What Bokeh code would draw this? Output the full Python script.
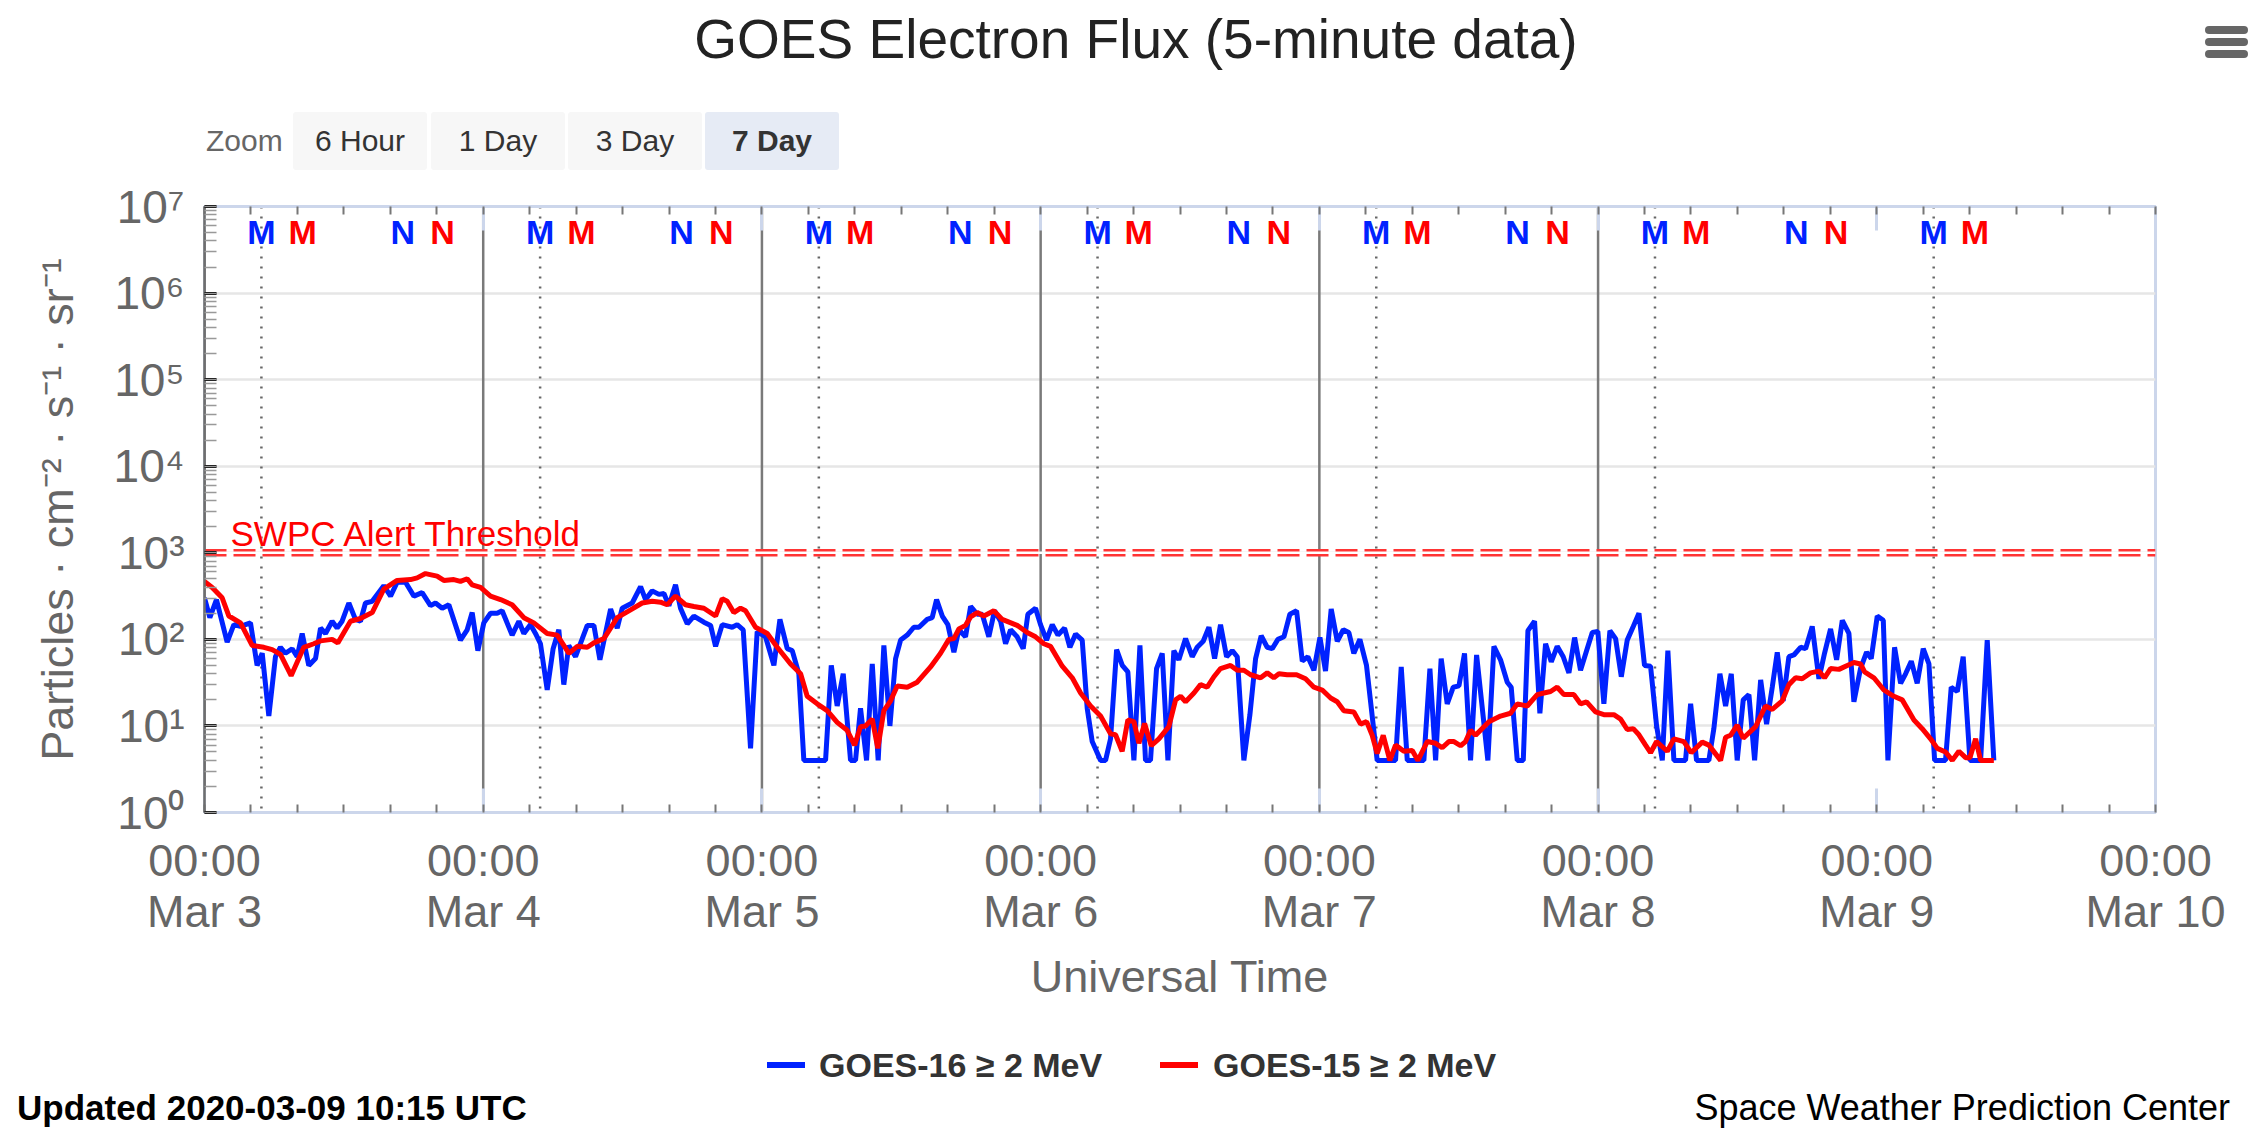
from datetime import datetime, timedelta
from bokeh.plotting import figure
from bokeh.layouts import column
from bokeh.models import (Range1d, Span, FixedTicker, LinearAxis, Div,
                          CustomJSTickFormatter, ColumnDataSource)
from bokeh.core.properties import value
from bokeh.embed import file_html
from bokeh.resources import INLINE

FONT = "Liberation Sans"

START = datetime(2020, 3, 3)
END = datetime(2020, 3, 10)
Y_MIN, Y_MAX = 1, 1e7

# GOES-16 >= 2 MeV: hours after 2020-03-03 00:00 UTC, flux (particles/cm2/s/sr)
G16_HOURS = [0.0, 0.46, 1.03, 1.95, 2.53, 3.10, 3.96, 4.53, 4.97, 5.54,
             6.11, 6.54, 6.97, 7.55, 7.98, 8.41, 8.98, 9.56, 9.99, 10.42,
             10.99, 11.42, 11.85, 12.43, 13.00, 13.43, 13.86, 14.44, 15.44, 16.02,
             16.59, 17.31, 18.03, 18.74, 19.46, 19.89, 20.47, 21.04, 22.04, 22.62,
             23.05, 23.54, 24.05, 24.63, 25.20, 25.63, 26.49, 27.07, 27.50, 28.07,
             28.50, 28.93, 29.51, 30.02, 30.51, 30.94, 31.37, 31.95, 32.96, 33.53,
             34.05, 34.97, 35.54, 35.97, 36.83, 37.55, 37.98, 38.55, 39.13, 39.56,
             39.99, 40.56, 40.99, 41.57, 42.14, 43.00, 43.58, 44.01, 44.58, 45.44,
             45.87, 46.39, 47.02, 47.59, 48.31, 49.03, 49.55, 50.18, 50.61, 51.18,
             51.61, 53.48, 53.97, 54.48, 55.00, 55.63, 56.06, 56.49, 57.01, 57.50,
             58.01, 58.50, 59.02, 59.51, 59.94, 60.51, 61.08, 61.52, 62.23, 62.66,
             63.04, 63.53, 64.01, 64.53, 64.96, 65.53, 65.97, 66.54, 66.97, 67.54,
             68.03, 68.55, 68.98, 69.41, 69.98, 70.50, 70.90, 71.56, 71.99, 72.51,
             73.00, 73.49, 74.06, 74.52, 75.01, 75.58, 76.01, 76.44, 77.16, 77.59,
             78.02, 78.54, 79.03, 79.51, 80.03, 80.55, 81.03, 81.46, 81.98, 82.47,
             82.96, 83.47, 83.90, 84.48, 85.05, 85.48, 86.00, 86.49, 86.98, 87.49,
             88.01, 88.50, 88.93, 89.50, 90.02, 90.51, 90.99, 91.51, 91.94, 92.43,
             92.95, 93.46, 94.04, 94.53, 95.01, 95.53, 96.05, 96.53, 97.02, 97.54,
             98.06, 98.54, 98.97, 99.49, 100.06, 100.98, 102.56, 103.05, 103.57, 105.00,
             105.52, 106.01, 106.49, 107.01, 107.53, 108.02, 108.50, 109.02, 109.54, 110.51,
             111.03, 111.60, 112.18, 112.52, 113.04, 113.56, 113.96, 114.53, 114.99, 115.48,
             115.97, 116.48, 117.00, 117.49, 117.98, 118.49, 119.01, 119.50, 119.98, 120.50,
             121.02, 121.51, 122.00, 122.51, 123.03, 123.52, 124.00, 124.52, 125.04, 125.53,
             126.01, 126.53, 127.53, 127.97, 128.48, 129.54, 129.97, 130.49, 130.98, 131.47,
             131.98, 132.50, 132.99, 133.48, 134.00, 134.51, 135.00, 135.43, 135.94, 136.43,
             136.86, 137.44, 137.87, 138.44, 139.02, 139.50, 140.02, 140.54, 141.03, 141.60,
             142.03, 142.60, 143.12, 143.52, 144.04, 144.56, 144.96, 145.53, 146.05, 146.48,
             146.97, 147.48, 148.00, 148.49, 148.98, 149.92, 150.41, 150.93, 151.44, 152.02,
             152.94, 153.51, 154.08]
G16_FLUX = [302, 178, 288, 93, 148, 141, 155, 50, 69, 13,
            63, 81, 69, 78, 63, 117, 50, 60, 135, 117,
            162, 135, 162, 263, 170, 162, 263, 275, 417, 316,
            457, 457, 316, 347, 245, 263, 229, 251, 98, 129,
            204, 74, 155, 200, 200, 214, 112, 162, 117, 148,
            117, 89, 26, 78, 129, 30, 85, 63, 145, 145,
            58, 224, 135, 229, 263, 407, 288, 363, 331, 339,
            245, 427, 229, 151, 186, 158, 145, 83, 148, 138,
            148, 129, 5.5, 123, 107, 50, 170, 78, 74, 40,
            4, 4, 50, 17, 40, 4, 4, 16, 4, 52,
            4, 85, 10, 60, 98, 112, 138, 138, 170, 178,
            288, 186, 148, 71, 129, 107, 240, 195, 195, 107,
            214, 162, 89, 129, 107, 78, 195, 229, 148, 98,
            148, 112, 135, 81, 115, 98, 16, 6.6, 4, 4,
            7.1, 76, 50, 42, 4, 85, 4, 4, 46, 69,
            4, 74, 58, 102, 63, 81, 95, 138, 60, 148,
            63, 74, 63, 4, 13.5, 60, 110, 81, 78, 100,
            107, 195, 214, 56, 63, 44, 105, 43, 224, 95,
            129, 120, 69, 100, 50, 4, 4, 48, 4, 4,
            46, 4, 60, 18, 28, 29, 69, 4, 66, 4,
            83, 58, 32, 28, 4, 4, 126, 162, 14, 89,
            55, 83, 63, 41, 105, 44, 74, 120, 123, 18,
            126, 102, 37, 98, 141, 200, 50, 49, 10, 4,
            74, 4, 4, 18, 4, 4, 9.3, 40, 17, 40,
            4, 20, 23, 4, 34, 10.5, 28, 71, 19.5, 63,
            66, 81, 78, 141, 35, 69, 132, 58, 166, 117,
            19, 46, 71, 60, 186, 166, 4, 81, 31, 40,
            56, 31, 78, 52, 4, 4, 28, 25, 63, 4,
            4, 98, 4]

# GOES-15 >= 2 MeV
G15_HOURS = [0.0, 0.66, 1.52, 2.10, 3.10, 4.10, 5.11, 5.83, 6.54, 7.46,
             8.55, 9.41, 9.99, 10.99, 11.48, 12.57, 13.43, 14.44, 15.44, 16.59,
             17.74, 18.31, 19.03, 20.03, 20.61, 21.47, 22.04, 22.62, 23.05, 23.77,
             24.63, 25.49, 26.49, 27.50, 28.36, 29.51, 30.37, 31.38, 32.10, 32.96,
             33.53, 34.39, 35.54, 36.69, 37.69, 38.55, 39.27, 39.84, 40.56, 41.42,
             42.14, 43.00, 44.01, 44.58, 45.01, 45.58, 46.16, 46.59, 47.45, 48.46,
             49.32, 50.47, 51.33, 51.90, 52.76, 53.62, 54.48, 55.34, 55.98, 56.49,
             56.92, 57.50, 57.98, 58.50, 59.08, 59.65, 60.51, 61.37, 62.52, 63.38,
             64.10, 64.53, 64.96, 65.53, 65.97, 66.54, 67.11, 67.97, 68.69, 69.98,
             70.84, 71.56, 72.28, 72.85, 73.86, 74.72, 75.44, 76.30, 77.16, 78.02,
             78.45, 79.02, 79.51, 80.03, 80.46, 80.95, 81.52, 82.18, 83.04, 83.62,
             84.05, 84.48, 85.20, 85.77, 86.34, 86.92, 87.49, 88.35, 88.93, 89.50,
             90.08, 90.94, 91.51, 92.08, 92.52, 93.23, 94.04, 94.81, 95.53, 96.25,
             96.97, 97.54, 98.11, 98.97, 99.55, 100.07, 100.55, 100.98, 101.50, 102.07,
             102.56, 103.28, 104.00, 104.49, 105.29, 106.01, 106.58, 107.15, 107.59, 108.16,
             108.59, 109.02, 109.45, 110.60, 111.60, 112.46, 113.04, 113.90, 114.76, 115.34,
             115.91, 116.48, 117.06, 117.92, 118.49, 119.01, 119.78, 120.50, 121.36, 121.94,
             122.51, 123.03, 123.52, 124.09, 124.52, 125.04, 125.96, 126.53, 127.39, 128.02,
             128.97, 129.54, 130.55, 130.98, 131.41, 131.98, 132.50, 133.56, 134.42, 135.00,
             135.86, 136.43, 137.01, 137.58, 138.30, 139.02, 139.50, 140.02, 140.74, 141.46,
             142.03, 142.60, 142.95, 143.75, 144.61, 145.47, 146.19, 147.20, 147.91, 148.63,
             149.21, 149.92, 150.50, 151.07, 151.65, 152.02, 152.51, 152.94, 154.08]
G15_FLUX = [467, 398, 302, 186, 155, 85, 81, 76, 67, 38,
            81, 89, 96, 100, 91, 162, 174, 204, 380, 479,
            490, 513, 575, 537, 479, 490, 467, 501, 427, 398,
            316, 288, 251, 178, 155, 117, 112, 69, 83, 81,
            91, 102, 178, 219, 263, 275, 269, 251, 316, 251,
            240, 229, 186, 295, 275, 204, 229, 214, 138, 117,
            81, 52, 40, 22, 18, 15, 11, 8.9, 6, 9.8,
            10, 12, 5.5, 15, 19.5, 29, 28, 32, 48, 69,
            100, 102, 132, 145, 182, 204, 186, 214, 170, 145,
            120, 107, 89, 83, 49, 36, 24, 17, 13, 8.1,
            7.9, 5.1, 11.7, 11.2, 6.3, 10.7, 5.9, 7.1, 9.8, 20,
            22, 19, 24, 30, 28, 37, 46, 50, 44, 44,
            39, 36, 41, 36, 40, 39, 39, 35, 28, 26,
            21, 19, 15, 14.5, 10.5, 11.2, 7.8, 4.8, 7.8, 4,
            6, 5.1, 5.2, 4, 6.6, 6.3, 5.6, 6.6, 6.6, 5.9,
            6.6, 8.9, 7.8, 11.2, 13, 14, 18, 17, 23, 24,
            25, 28, 23, 23, 18, 19, 14.5, 13.5, 13.5, 12,
            9.1, 9.3, 7.9, 6, 4.9, 6.6, 5.1, 7.1, 6.6, 4.9,
            6.5, 6, 4, 7.4, 7.8, 10.2, 7.2, 9.8, 17, 15.5,
            19.5, 30, 36, 35, 41, 43, 36, 46, 45, 50,
            54, 52, 42, 36, 26, 22, 20, 11.7, 9.3, 7.1,
            5.5, 5, 4, 5.1, 4.3, 4.3, 7.1, 4, 4]

SERIES_NAMES = ["GOES-16 \u2265 2 MeV", "GOES-15 \u2265 2 MeV"]
SERIES_COLORS = ["#0022FF", "#FF0000"]

THRESHOLD = 1000
THRESHOLD_LABEL = "SWPC Alert Threshold"

# day offsets (from Mar 3) that carry a solid midnight line
DAY_LINE_DAYS = [0, 1, 2, 3, 4, 5]
# local midnight (M) / noon (N) markers, UTC hour of day
M_DAYS = [0, 1, 2, 3, 4, 5, 6]
N_DAYS = [0, 1, 2, 3, 4, 5]
G16_MIDNIGHT_H = 4.9
G15_MIDNIGHT_H = 8.45
G16_NOON_H = 17.07
G15_NOON_H = 20.5

TICK_DAYS = [0, 1, 2, 3, 4, 5, 6, 7]
MINOR_STEP_H = 4

ZOOM_BUTTONS = ["6 Hour", "1 Day", "3 Day", "7 Day"]
SELECTED_BUTTON = "7 Day"

TITLE = "GOES Electron Flux (5-minute data)"
UPDATED = "Updated 2020-03-09 10:15 UTC"
CREDIT = "Space Weather Prediction Center"


def at(h):
    return START + timedelta(hours=h)


def ms(dt):
    return (dt - datetime(1970, 1, 1)).total_seconds() * 1000.0


W = 2257
HEADER_H = 172
FOOTER_H = 85

p = figure(frame_width=1951, frame_height=606, title=None,
           x_axis_type="datetime", y_axis_type="log",
           x_range=Range1d(START, END), y_range=Range1d(Y_MIN, Y_MAX),
           output_backend="svg", toolbar_location=None,
           min_border_left=204, min_border_right=102, min_border_top=34, min_border_bottom=230)
p.margin = (0, 0, 0, 0)
p.background_fill_color = "white"
p.border_fill_color = "white"
p.outline_line_color = "#ccd6eb"
p.outline_line_width = 3

# grid
p.xgrid.visible = False
p.ygrid.grid_line_color = "#e6e6e6"
p.ygrid.grid_line_width = 2.5
p.ygrid.level = "underlay"

# x ticks
major = [ms(at(24 * d)) for d in TICK_DAYS]
minor = [ms(at(h)) for h in range(0, 24 * TICK_DAYS[-1] + 1, MINOR_STEP_H)]
xticker = FixedTicker(ticks=major, minor_ticks=minor)

xfmt = CustomJSTickFormatter(code="""
const d = new Date(tick);
const M = ["Jan","Feb","Mar","Apr","May","Jun","Jul","Aug","Sep","Oct","Nov","Dec"];
const hh = String(d.getUTCHours()).padStart(2, "0");
const mm = String(d.getUTCMinutes()).padStart(2, "0");
return hh + ":" + mm + "\\n" + M[d.getUTCMonth()] + " " + d.getUTCDate();
""")

xa = p.xaxis[0]
xa.ticker = xticker
xa.formatter = xfmt
xa.axis_label = "Universal Time"
xa.axis_label_text_font = FONT
xa.axis_label_text_font_size = "45px"
xa.axis_label_text_font_style = "normal"
xa.axis_label_text_color = "#666666"
xa.axis_label_standoff = 11
xa.major_label_text_font = FONT
xa.major_label_text_font_size = "45px"
xa.major_label_text_color = "#666666"
xa.major_label_text_line_height = 1.0
xa.major_label_standoff = 22
xa.axis_line_color = "#ccd6eb"
xa.axis_line_width = 3
xa.major_tick_line_color = "#ccd6eb"
xa.major_tick_line_width = 3
xa.major_tick_in = 24
xa.major_tick_out = 0
xa.minor_tick_line_color = "#777777"
xa.minor_tick_line_width = 2
xa.minor_tick_in = 8
xa.minor_tick_out = 0

top = LinearAxis(ticker=xticker, formatter=CustomJSTickFormatter(code="return '';"))
top.major_label_text_font_size = "1px"
top.major_label_standoff = 0
top.axis_line_color = "#ccd6eb"
top.axis_line_width = 3
top.major_tick_line_color = "#ccd6eb"
top.major_tick_line_width = 3
top.major_tick_in = 24
top.major_tick_out = 0
top.minor_tick_line_color = "#777777"
top.minor_tick_line_width = 2
top.minor_tick_in = 8
top.minor_tick_out = 0
p.add_layout(top, "above")

# y axis
ya = p.yaxis[0]
ya.formatter = CustomJSTickFormatter(code="""
const sup = ["\\u2070","\\u00b9","\\u00b2","\\u00b3","\\u2074","\\u2075","\\u2076","\\u2077","\\u2078","\\u2079"];
const e = Math.round(Math.log10(tick));
return "10" + sup[e];
""")
ya.axis_label = "Particles \u00b7 cm\u207b\u00b2 \u00b7 s\u207b\u00b9 \u00b7 sr\u207b\u00b9"
ya.axis_label_text_font = FONT
ya.axis_label_text_font_size = "45px"
ya.axis_label_text_font_style = "normal"
ya.axis_label_text_color = "#666666"
ya.axis_label_standoff = 28
ya.major_label_text_font = FONT
ya.major_label_text_font_size = "46px"
ya.major_label_text_color = "#666666"
ya.major_label_text_baseline = "alphabetic"
ya.major_label_standoff = 20
ya.axis_line_color = "#6e6e6e"
ya.axis_line_width = 2.5
ya.major_tick_line_color = "black"
ya.major_tick_line_width = 3
ya.major_tick_in = 12
ya.major_tick_out = 0
ya.minor_tick_line_color = "#999999"
ya.minor_tick_line_width = 1.5
ya.minor_tick_in = 12
ya.minor_tick_out = 0

# midnight lines and G16 local-midnight dotted lines
for d in DAY_LINE_DAYS:
    p.add_layout(Span(location=at(24 * d), dimension="height", line_color="#7a7a7a",
                      line_width=2.5, level="underlay"))
for d in M_DAYS:
    p.add_layout(Span(location=at(24 * d + G16_MIDNIGHT_H), dimension="height",
                      line_color="#666666", line_width=2.5, line_dash="2 8", level="underlay"))

# threshold (double dashed line)
p.add_layout(Span(location=THRESHOLD, dimension="width", line_color="#ff3434",
                  line_width=7.5, line_dash="22 7", level="underlay"))
p.add_layout(Span(location=THRESHOLD, dimension="width", line_color="white",
                  line_width=2.5, level="underlay"))
p.text(x=[START], y=[THRESHOLD], text=[THRESHOLD_LABEL], x_offset=26, y_offset=-19,
       text_font=value(FONT), text_font_size="35px", text_color="#ff0000",
       text_baseline="alphabetic", text_align="left")

# data
blue = p.line([at(h) for h in G16_HOURS], G16_FLUX, line_color=SERIES_COLORS[0], line_width=5)
red = p.line([at(h) for h in G15_HOURS], G15_FLUX, line_color=SERIES_COLORS[1], line_width=5)

# M / N markers
mx, mt, mc = [], [], []
for d in M_DAYS:
    mx += [at(24 * d + G16_MIDNIGHT_H), at(24 * d + G15_MIDNIGHT_H)]
    mt += ["M", "M"]
    mc += SERIES_COLORS
for d in N_DAYS:
    mx += [at(24 * d + G16_NOON_H), at(24 * d + G15_NOON_H)]
    mt += ["N", "N"]
    mc += SERIES_COLORS
msrc = ColumnDataSource(dict(x=mx, y=[Y_MAX] * len(mx), t=mt, c=mc))
p.text(x="x", y="y", text="t", text_color="c", source=msrc, y_offset=25,
       text_font=value(FONT), text_font_size="34px", text_font_style="bold",
       text_align="center", text_baseline="middle")

# header (title, range-selector buttons, menu icon)
FF = "font-family:'Liberation Sans',Arial,sans-serif;"
btn_left = [293, 431, 568, 705]
btn_html = ""
for bx, name in zip(btn_left, ZOOM_BUTTONS):
    sel = name == SELECTED_BUTTON
    btn_html += (
        f'<div style="position:absolute;left:{bx}px;top:112px;width:134px;height:58px;'
        f'line-height:58px;text-align:center;font-size:30px;color:#333333;border-radius:3px;'
        f'background:{"#e6ebf5" if sel else "#f7f7f7"};'
        f'font-weight:{"bold" if sel else "normal"};">{name}</div>')
menu_html = "".join(
    f'<div style="position:absolute;left:2205px;top:{ty}px;width:43px;height:8px;'
    f'border-radius:4px;background:#666666;"></div>' for ty in (26, 38, 50))
header_html = (
    f'<div style="position:relative;width:{W}px;height:{HEADER_H}px;{FF}">'
    f'<div style="position:absolute;left:1136px;top:7px;transform:translateX(-50%);'
    f'white-space:nowrap;font-size:55px;line-height:64px;color:#222222;">{TITLE}</div>'
    f'<div style="position:absolute;left:206px;top:112px;line-height:58px;font-size:30px;'
    f'color:#666666;">Zoom</div>'
    f'{btn_html}{menu_html}</div>')
header = Div(text=header_html, width=W, height=HEADER_H, margin=(0, 0, 0, 0))

# footer: series key and credits
key_html = ""
for (lx, tx), name, col in zip([(767, 819), (1160, 1213)], SERIES_NAMES, SERIES_COLORS):
    key_html += (
        f'<div style="position:absolute;left:{lx}px;top:20px;width:38px;height:6px;'
        f'background:{col};"></div>'
        f'<div style="position:absolute;left:{tx}px;top:3px;line-height:40px;font-size:34px;'
        f'font-weight:bold;color:#333333;white-space:nowrap;">{name}</div>')
footer_html = (
    f'<div style="position:relative;width:{W}px;height:{FOOTER_H}px;{FF}">'
    f'{key_html}'
    f'<div style="position:absolute;left:17px;top:48px;line-height:36px;font-size:35px;'
    f'font-weight:bold;color:#000000;white-space:nowrap;">{UPDATED}</div>'
    f'<div style="position:absolute;right:27px;top:48px;line-height:36px;font-size:36px;'
    f'color:#000000;white-space:nowrap;">{CREDIT}</div></div>')
footer = Div(text=footer_html, width=W, height=FOOTER_H, margin=(0, 0, 0, 0))

page = column(header, p, footer, spacing=0, margin=(0, 0, 0, 0))

open("out.html", "w", encoding="utf-8").write(file_html(page, INLINE))
